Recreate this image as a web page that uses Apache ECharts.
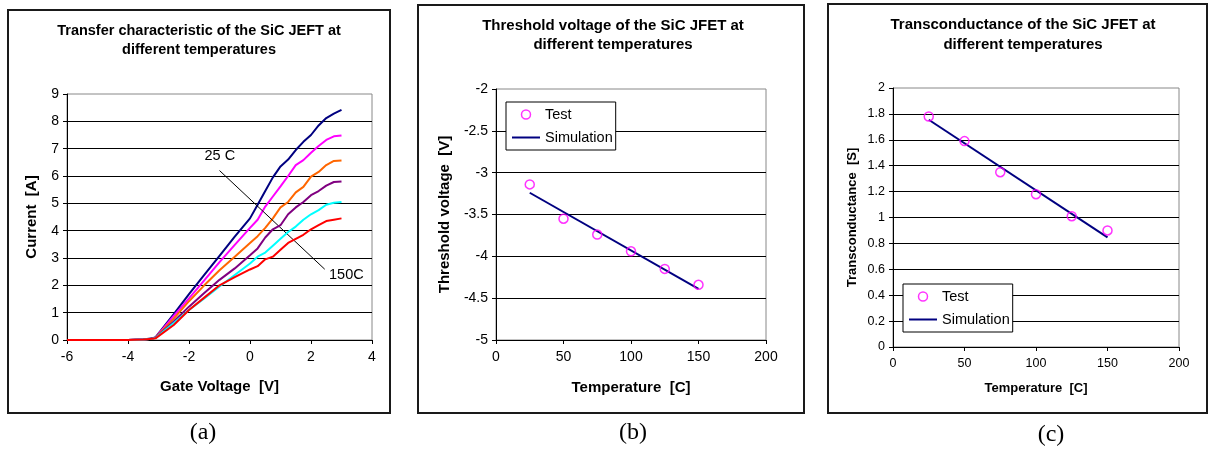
<!DOCTYPE html>
<html>
<head>
<meta charset="utf-8">
<script src="https://cdn.jsdelivr.net/npm/echarts@6/dist/echarts.min.js"></script>
<style>
  html, body { margin: 0; padding: 0; background: #fff; }
  #chart { width: 1209px; height: 451px; }
</style>
</head>
<body>
<div id="chart"></div>
<script>
// (a) transfer characteristic, current vs gate voltage at 6 temperatures
const gateVoltage = [-6, -5, -4, -3.5, -3.2, -3.1, -2.5, -2, -1.5, -1, -0.5, 0, 0.25, 0.5, 0.75, 1, 1.25, 1.5, 1.75, 2, 2.25, 2.5, 2.75, 3];
const current25C  = [0, 0, 0, 0.02, 0.06, 0.1, 0.95, 1.68, 2.38, 3.08, 3.78, 4.45, 4.95, 5.45, 5.95, 6.35, 6.6, 6.95, 7.25, 7.5, 7.85, 8.12, 8.28, 8.42];
const current50C  = [0, 0, 0, 0.02, 0.05, 0.09, 0.88, 1.52, 2.18, 2.85, 3.48, 4.1, 4.4, 4.88, 5.25, 5.62, 6.0, 6.4, 6.58, 6.85, 7.1, 7.32, 7.45, 7.48];
const current75C  = [0, 0, 0, 0.02, 0.05, 0.08, 0.78, 1.42, 2.0, 2.55, 3.05, 3.55, 3.8, 4.1, 4.45, 4.85, 5.05, 5.4, 5.6, 5.98, 6.15, 6.4, 6.55, 6.57];
const current100C = [0, 0, 0, 0.03, 0.05, 0.08, 0.68, 1.22, 1.72, 2.2, 2.62, 3.1, 3.35, 3.75, 4.05, 4.2, 4.6, 4.85, 5.05, 5.3, 5.45, 5.65, 5.78, 5.8];
const current125C = [0, 0, 0, 0.02, 0.05, 0.07, 0.62, 1.1, 1.52, 1.96, 2.38, 2.8, 3.05, 3.2, 3.45, 3.7, 3.95, 4.15, 4.4, 4.6, 4.75, 4.95, 5.02, 5.05];
const current150C = [0, 0, 0, 0.02, 0.05, 0.06, 0.55, 1.1, 1.55, 2.0, 2.3, 2.58, 2.7, 2.95, 3.05, 3.3, 3.55, 3.7, 3.85, 4.05, 4.2, 4.35, 4.4, 4.45];

// (b) and (c) versus temperature
const testTemps = [25, 50, 75, 100, 125, 150];
const thresholdTest = [-3.14, -3.55, -3.74, -3.94, -4.15, -4.34];
const simTemps = [25, 150];
const thresholdSim = [-3.24, -4.39];
const transTest = [1.78, 1.59, 1.35, 1.18, 1.01, 0.9];
const transSim = [1.755, 0.846];

const FONT = '"Liberation Sans", Arial, sans-serif';
const SERIF = '"Liberation Serif", "DejaVu Serif", serif';

const curves = [
  { name: '25 C', data: current25C, color: '#000080' },
  { name: '50 C', data: current50C, color: '#ff00ff' },
  { name: '75 C', data: current75C, color: '#ff6600' },
  { name: '100 C', data: current100C, color: '#800080' },
  { name: '125 C', data: current125C, color: '#00ffff' },
  { name: '150 C', data: current150C, color: '#ff0000' }
];

function pairs(xs, ys) {
  return xs.map((x, i) => [x, ys[i]]);
}

function axis(gridIndex, min, max, interval, size, name, nameSize, nameGap, isY) {
  return {
    type: 'value',
    gridIndex: gridIndex,
    min: min,
    max: max,
    interval: interval,
    name: name,
    nameLocation: 'middle',
    nameGap: nameGap,
    nameTextStyle: { fontFamily: FONT, fontSize: nameSize, fontWeight: 'bold', color: '#000' },
    axisLine: { show: true, onZero: false, lineStyle: { color: '#000', width: 1 } },
    axisTick: { show: true, length: 4, lineStyle: { color: '#000' } },
    axisLabel: { fontFamily: FONT, fontSize: size, color: '#000', margin: isY ? 8 : 10 },
    splitLine: isY
      ? { show: true, showMaxLine: false, lineStyle: { color: '#000', width: 1 } }
      : { show: false }
  };
}

function legend(left, top) {
  return {
    orient: 'vertical',
    left: left,
    top: top,
    backgroundColor: '#fff',
    borderColor: '#000',
    borderWidth: 1,
    borderRadius: 0,
    padding: [5, 3, 5, 5],
    itemWidth: 28,
    itemHeight: 9,
    itemGap: 8,
    textStyle: { fontFamily: FONT, fontSize: 14.5, color: '#000' },
    selectedMode: false,
    data: [
      { name: 'Test', icon: 'circle', itemStyle: { color: 'rgba(0,0,0,0)', borderColor: '#ff00ff', borderWidth: 1.5 } },
      { name: 'Simulation', itemStyle: { color: 'rgba(0,0,0,0)', borderWidth: 0, opacity: 0 } }
    ]
  };
}

const titleStyle = (size, lh) => ({ fontFamily: FONT, fontSize: size, fontWeight: 'bold', color: '#000', lineHeight: lh });

const series = curves.map((c, i) => ({
  type: 'line',
  name: c.name,
  xAxisIndex: 0,
  yAxisIndex: 0,
  data: pairs(gateVoltage, c.data),
  showSymbol: false,
  symbol: 'none',
  lineStyle: { color: c.color, width: 2 },
  itemStyle: { color: c.color },
  z: 2 + i
}));

// arrow and "25 C" / "150C" notes on the first curve
series[0].markLine = {
  silent: true,
  symbol: ['none', 'arrow'],
  symbolSize: [0, 8],
  label: { show: false },
  lineStyle: { color: '#000', width: 1, type: 'solid' },
  data: [[{ coord: [-1, 6.2] }, { coord: [2.45, 2.59] }]]
};
series[0].markPoint = {
  silent: true,
  symbol: 'circle',
  symbolSize: 1,
  itemStyle: { color: 'rgba(0,0,0,0)' },
  label: { show: true, position: 'inside', fontFamily: FONT, fontSize: 14.5, color: '#000', formatter: p => p.name },
  data: [
    { name: '25 C', coord: [-0.99, 6.74] },
    { name: '150C', coord: [3.16, 2.38] }
  ]
};

function testSeries(axisIdx, ys) {
  return {
    type: 'scatter', name: 'Test', xAxisIndex: axisIdx, yAxisIndex: axisIdx,
    data: pairs(testTemps, ys), symbol: 'circle', symbolSize: 9,
    itemStyle: { color: 'rgba(0,0,0,0)', borderColor: '#ff00ff', borderWidth: 1.5 }, z: 4
  };
}
function simSeries(axisIdx, ys) {
  return {
    type: 'line', name: 'Simulation', xAxisIndex: axisIdx, yAxisIndex: axisIdx,
    data: pairs(simTemps, ys), symbol: 'none', showSymbol: false,
    lineStyle: { color: '#000080', width: 2 }, itemStyle: { color: '#000080' }, z: 3
  };
}
series.push(testSeries(1, thresholdTest), simSeries(1, thresholdSim));
series.push(testSeries(2, transTest), simSeries(2, transSim));

const option = {
  animation: false,
  backgroundColor: '#fff',
  title: [
    { text: 'Transfer characteristic of the SiC JEFT at\ndifferent temperatures', left: 199, top: 21, textAlign: 'center', padding: 0, textStyle: titleStyle(14.5, 19) },
    { text: 'Threshold voltage of the SiC JFET at\ndifferent temperatures', left: 613, top: 16.5, textAlign: 'center', padding: 0, textStyle: titleStyle(15, 19) },
    { text: 'Transconductance of the SiC JFET at\ndifferent temperatures', left: 1023, top: 15, textAlign: 'center', padding: 0, textStyle: titleStyle(15, 20) }
  ],
  legend: [legend(506, 102), legend(903, 284)],
  grid: [
    { left: 67, top: 94, width: 305, height: 246, show: true, borderColor: '#888', borderWidth: 1, backgroundColor: '#fff' },
    { left: 496, top: 89, width: 270, height: 251, show: true, borderColor: '#888', borderWidth: 1, backgroundColor: '#fff' },
    { left: 893, top: 88, width: 286, height: 259, show: true, borderColor: '#888', borderWidth: 1, backgroundColor: '#fff' }
  ],
  xAxis: [
    axis(0, -6, 4, 2, 14, 'Gate Voltage  [V]', 15, 39, false),
    axis(1, 0, 200, 50, 14, 'Temperature  [C]', 15, 40, false),
    axis(2, 0, 200, 50, 12.5, 'Temperature  [C]', 13, 35, false)
  ],
  yAxis: [
    axis(0, 0, 9, 1, 14, 'Current  [A]', 15, 28, true),
    axis(1, -5, -2, 0.5, 14, 'Threshold voltage  [V]', 15, 44, true),
    axis(2, 0, 2, 0.2, 12.5, 'Transconductance  [S]', 13, 34, true)
  ],
  graphic: [
    { type: 'rect', shape: { x: 8, y: 10, width: 382, height: 403 }, style: { fill: 'none', stroke: '#1a1a1a', lineWidth: 2 }, silent: true, z: -1 },
    { type: 'rect', shape: { x: 418, y: 5, width: 386, height: 408 }, style: { fill: 'none', stroke: '#1a1a1a', lineWidth: 2 }, silent: true, z: -1 },
    { type: 'rect', shape: { x: 828, y: 4, width: 379, height: 409 }, style: { fill: 'none', stroke: '#1a1a1a', lineWidth: 2 }, silent: true, z: -1 },
    { type: 'text', x: 203, y: 433, style: { text: '(a)', font: '24px ' + SERIF, fill: '#000', textAlign: 'center', textVerticalAlign: 'middle' } },
    { type: 'text', x: 633, y: 433, style: { text: '(b)', font: '24px ' + SERIF, fill: '#000', textAlign: 'center', textVerticalAlign: 'middle' } },
    { type: 'text', x: 1051, y: 435, style: { text: '(c)', font: '24px ' + SERIF, fill: '#000', textAlign: 'center', textVerticalAlign: 'middle' } }
  ],
  series: series
};

const chart = echarts.init(document.getElementById('chart'));
chart.setOption(option);
</script>
</body>
</html>
